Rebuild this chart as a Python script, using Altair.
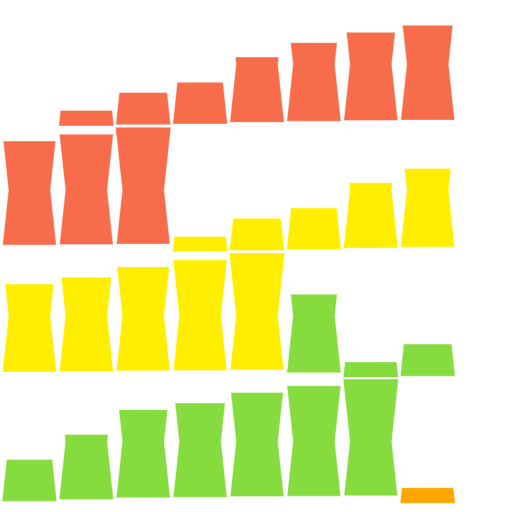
import altair as alt
import pandas as pd

# values per grid row (top to bottom), columns 1..8; None = empty cell
ROW_VALUES = [
    [None, 13.3, 27.5, 35.7, 55.8, 67.2, 75.4, 81.0],
    [88.9, 94.4, 100.0, 13.0, 27.5, 35.7, 55.8, 67.2],
    [75.2, 80.7, 88.9, 94.4, 100.0, 67.2, 13.3, 27.5],
    [35.7, 55.6, 75.4, 80.7, 89.1, 94.4, 99.8, 13.3],
]
ROW_GROUPS = [
    [None, "A", "A", "A", "A", "A", "A", "A"],
    ["A", "A", "A", "B", "B", "B", "B", "B"],
    ["B", "B", "B", "B", "B", "C", "C", "C"],
    ["C", "C", "C", "C", "C", "C", "C", "D"],
]
GROUPS = ["A", "B", "C", "D"]
COLORS = ["#F76D4B", "#FFEE00", "#86DC3E", "#FFA600"]

records = []
for r, (vals, grps) in enumerate(zip(ROW_VALUES, ROW_GROUPS), start=1):
    for c, (v, g) in enumerate(zip(vals, grps), start=1):
        if v is None:
            continue
        records.append({"cell": f"c{r}{c}", "row": r, "col": c, "v": v, "grp": g})
df = pd.DataFrame(records)

chart = (
    alt.Chart(df)
    .transform_calculate(
        p0="0.07 * datum.v",
        p1="min(50, datum.v)",
        p2="datum.v",
    )
    .transform_fold(["p0", "p1", "p2"], as_=["k", "d"])
    .transform_calculate(
        ypos="(4 - datum.row) * 100 + 5.6 + datum.d",
        hw="(21 + 0.135 * abs(datum.d - 50)) / 57",
    )
    .transform_calculate(xa="datum.col - datum.hw", xb="datum.col + datum.hw")
    .mark_area(orient="horizontal", stroke="white", strokeWidth=1, strokeOpacity=0.4)
    .encode(
        y=alt.Y("ypos:Q", scale=alt.Scale(domain=[0, 406.3], nice=False, zero=False), axis=None),
        x=alt.X("xa:Q", scale=alt.Scale(domain=[0.5, 9.482], nice=False, zero=False), axis=None, stack=None),
        x2="xb:Q",
        detail="cell:N",
        color=alt.Color("grp:N", scale=alt.Scale(domain=GROUPS, range=COLORS), legend=None),
    )
    .properties(width=512, height=512, padding=0)
    .configure_view(strokeWidth=0)
)

chart.save("out.html", embed_options={"renderer": "svg", "actions": False})
